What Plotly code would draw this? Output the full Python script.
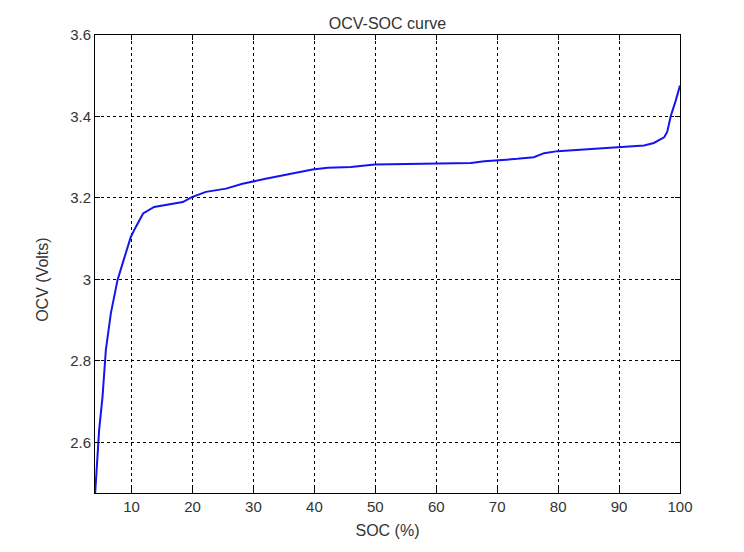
import plotly.graph_objects as go

# OCV-SOC curve, values
soc = [4.03, 4.42, 4.68, 5.24, 5.78, 6.6, 7.7, 8.52, 9.89, 10.7, 11.9, 13.7,
       16.7, 18.4, 19.9, 22.2, 25.5, 28.2, 32.0, 36.7, 39.7, 42.2, 46.0,
       49.9, 55.8, 59.9, 65.7, 67.9, 70.0, 73.3, 76.0, 77.7, 79.9, 84.3,
       90.0, 94.1, 95.7, 97.4, 97.9, 98.5, 99.3, 100.0]
ocv = [2.476, 2.558, 2.631, 2.713, 2.827, 2.917, 2.999, 3.039, 3.105, 3.129,
       3.162, 3.178, 3.186, 3.190, 3.202, 3.215, 3.223, 3.235, 3.247, 3.260,
       3.270, 3.274, 3.276, 3.282, 3.283, 3.284, 3.286, 3.290, 3.292, 3.296,
       3.300, 3.310, 3.315, 3.319, 3.325, 3.329, 3.335, 3.349, 3.362, 3.402,
       3.439, 3.476]

x_ticks = [10, 20, 30, 40, 50, 60, 70, 80, 90, 100]
y_ticks = [2.6, 2.8, 3.0, 3.2, 3.4, 3.6]
y_tick_labels = ['2.6', '2.8', '3', '3.2', '3.4', '3.6']

font_name = 'Liberation Sans, Arial'

trace = go.Scatter(x=soc, y=ocv, mode='lines',
                   line=dict(color='#1414f0', width=2), showlegend=False)

axis_style = dict(showline=True, linecolor='black', linewidth=1, mirror='ticks',
                  ticks='inside', ticklen=5, tickcolor='black',
                  showgrid=True, gridcolor='black', gridwidth=1,
                  griddash='3px,3px', zeroline=False,
                  tickfont=dict(family=font_name, size=15, color='#333'))

layout = go.Layout(
    width=744, height=552,
    paper_bgcolor='white', plot_bgcolor='white',
    margin=dict(l=87, r=72, t=27, b=67),
    title=dict(text='OCV-SOC curve', x=0.5, xref='paper', xanchor='center',
               y=1, yref='paper', yanchor='bottom', pad=dict(b=6),
               font=dict(family=font_name, size=16, color='#333')),
    xaxis=dict(range=[4, 100], tickvals=x_ticks,
               title=dict(text='SOC (%)', standoff=10,
                          font=dict(family=font_name, size=16, color='#333')),
               **axis_style),
    yaxis=dict(range=[2.476, 3.6], tickvals=y_ticks, ticktext=y_tick_labels,
               **axis_style),
    annotations=[dict(text='OCV (Volts)', textangle=-90, xref='paper', yref='y',
                      x=-0.09, y=3.0, xanchor='center', yanchor='middle',
                      showarrow=False,
                      font=dict(family=font_name, size=16, color='#333'))],
)

fig = go.Figure(data=[trace], layout=layout)
fig.write_html('out.html')
